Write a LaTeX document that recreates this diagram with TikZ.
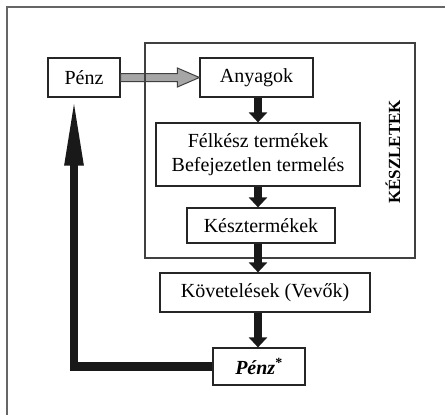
\documentclass[tikz,border=0pt]{standalone}
\usepackage{fontspec}
\setmainfont{Liberation Serif}
\usetikzlibrary{arrows.meta,calc}
\tikzset{
  box/.style={draw=black!85, line width=1.2pt, fill=white, inner sep=0pt, align=center,
    font=\fontsize{20}{22}\selectfont},
  flow/.style={line width=7.5pt, draw=black!90, -{Triangle[width=18pt,length=10pt]}},
  loop/.style={line width=8.5pt, draw=black!90, line join=miter, -{Triangle[width=17pt,length=70pt]}},
  gray arrow/.style={draw=black!75, line width=1pt, fill=black!35},
  frame/.style={draw=black!60, line width=1.3pt},
  container/.style={draw=black!75, line width=1.2pt, inner sep=0pt}
}
\begin{document}
\begin{tikzpicture}[x=1pt,y=-1pt]
\useasboundingbox (0,0) rectangle (445,415);
\fill[white] (0,0) rectangle (445,415);
% outer frame
\draw[frame] (7,415) -- (7,7) -- (445,7);
% nodes
\node[box, minimum width=72pt, minimum height=39pt] (pz) at (84,77.5) {Pénz};
\node[box, minimum width=113pt, minimum height=39pt] (any) at (256.5,77.5) {Anyagok};
% gray arrow
\draw[gray arrow] ($(pz.east)+(0,-4)$) -- ($(any.west)+(-22,-4)$) -- ($(any.west)+(-22,-9.5)$)
  -- (any.west) -- ($(any.west)+(-22,9.5)$) -- ($(any.west)+(-22,4)$) -- ($(pz.east)+(0,4)$) -- cycle;
% container
\node[container, minimum width=270pt, minimum height=215pt] (kbox) at (280,150.5) {};
\node[rotate=90, font=\fontsize{17}{20}\selectfont\bfseries] (klab) at (393,152) {KÉSZLETEK};
\node[box, minimum width=204pt, minimum height=63pt, font=\fontsize{20}{23.5}\selectfont] (fel) at (258,154.5) {Félkész termékek\\Befejezetlen termelés};
\node[box, minimum width=148pt, minimum height=35pt] (kesz) at (261,225.5) {Késztermékek};
\node[box, minimum width=210pt, minimum height=39pt] (kov) at (265,292.5) {Követelések (Vevők)};
\node[box, minimum width=92pt, minimum height=37pt] (pzs) at (259,366.5) {\textbf{\textit{Pénz}}\textsuperscript{\textbf{*}}};
% flow arrows
\coordinate (ax) at (258,0);
\draw[flow] (ax |- any.south) -- (ax |- fel.north);
\draw[flow] (ax |- fel.south) -- (ax |- kesz.north);
\draw[flow] (ax |- kesz.south) -- (ax |- kov.north);
\draw[flow] (ax |- kov.south) -- (ax |- pzs.north);
% loop arrow
\coordinate (lx) at (74,0);
\draw[loop] (pzs.west) -| ($(lx |- pz.south)+(0,-2)$);
\end{tikzpicture}
\end{document}
